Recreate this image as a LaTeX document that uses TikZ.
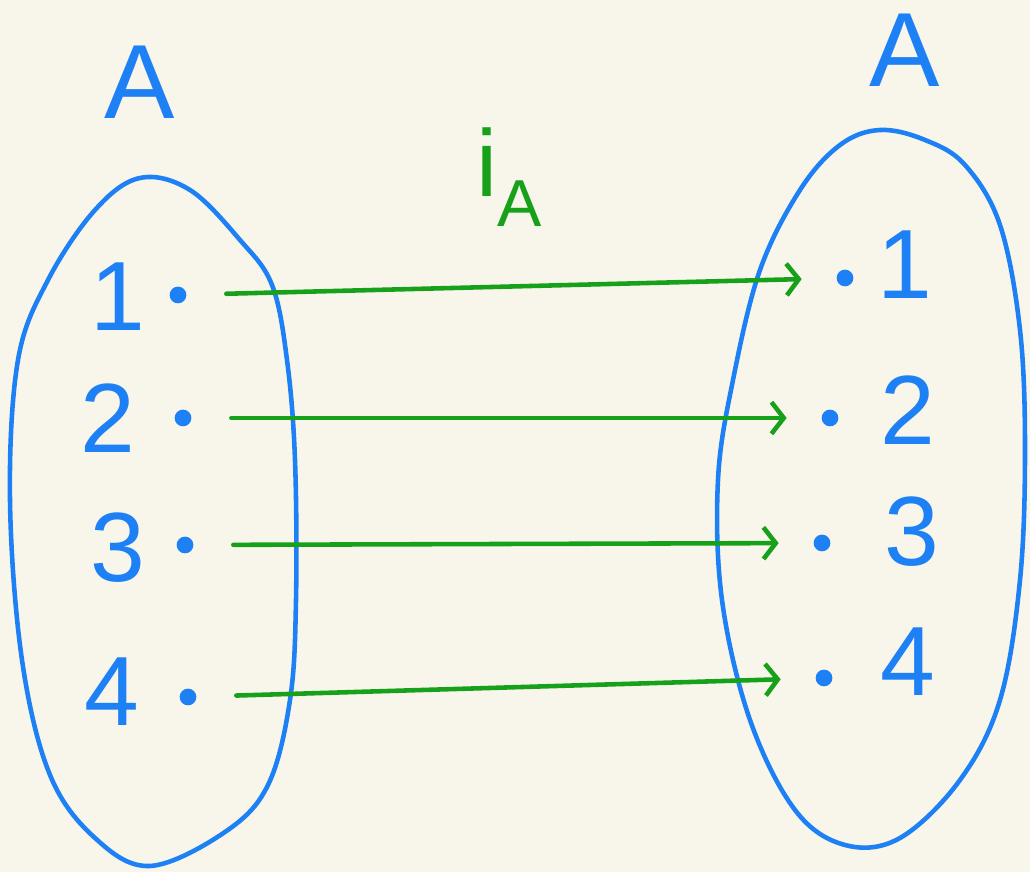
\documentclass[tikz,border=0pt]{standalone}
\usepackage{fontspec}
\setmainfont{Liberation Sans}
\usepackage{tikz}
\usetikzlibrary{arrows.meta}
\definecolor{paper}{HTML}{F8F6EA}
\definecolor{pen}{HTML}{1E80F5}
\definecolor{ink}{HTML}{17A01A}

\begin{document}
\begin{tikzpicture}[line cap=round, line join=round,
  blob/.style={draw=pen, line width=2.6pt},
  elem/.style={circle, draw=pen, fill=pen, line width=1pt, inner sep=3pt},
  digit/.style={text=pen, font=\fontsize{56}{56}\selectfont},
  setname/.style={text=pen, font=\fontsize{60}{60}\selectfont},
  maparrow/.style={draw=ink, line width=2.6pt, -{Straight Barb[length=7pt,width=18pt]},
    shorten <=0.8cm, shorten >=0.7cm}]
\fill[paper] (0,0) rectangle (20.6,17.44);
\useasboundingbox (0,0) rectangle (20.6,17.44);

% the two sets
\draw[blob] plot[smooth cycle, tension=0.6] coordinates {(2.8,13.88) (3.8,13.64) (4.8,12.64)
  (5.44,11.74) (5.74,10.24) (5.9,8.24) (5.92,5.44) (5.8,3.44) (5.36,1.74) (4.5,0.8)
  (3.0,0.12) (1.9,0.68) (1.0,1.94) (0.44,4.24) (0.2,7.44) (0.36,10.24) (0.96,11.84) (1.9,13.24)};
\draw[blob] plot[smooth cycle, tension=0.6] coordinates {(17.6,14.84) (18.5,14.64) (19.3,14.14)
  (20.0,12.94) (20.4,10.84) (20.5,8.44) (20.4,5.84) (20.0,3.44) (19.2,1.84) (18.0,0.68)
  (16.9,0.54) (15.9,1.24) (15.0,3.04) (14.44,5.44) (14.36,7.84) (14.66,9.84) (15.2,12.04)
  (16.0,13.64) (16.8,14.54)};

\node[setname] (dom) at (2.8,15.8) {A};
\node[setname] (cod) at (18.1,16.44) {A};
\node[text=ink, font=\fontsize{54}{54}\selectfont] (map) at (10.2,13.9) {i\textsubscript{A}};

% left elements
\node[digit] (l1) at (2.36,11.5) {1};
\node[digit] (l2) at (2.16,9.08) {2};
\node[digit] (l3) at (2.36,6.48) {3};
\node[digit] (l4) at (2.24,3.6) {4};
\node[elem] (a1) at (3.56,11.54) {};
\node[elem] (a2) at (3.66,9.08) {};
\node[elem] (a3) at (3.7,6.54) {};
\node[elem] (a4) at (3.76,3.5) {};

% right elements
\node[elem] (b1) at (16.9,11.88) {};
\node[elem] (b2) at (16.6,9.08) {};
\node[elem] (b3) at (16.44,6.58) {};
\node[elem] (b4) at (16.48,3.88) {};
\node[digit] (r1) at (18.1,12.14) {1};
\node[digit] (r2) at (18.16,9.24) {2};
\node[digit] (r3) at (18.24,6.8) {3};
\node[digit] (r4) at (18.16,4.2) {4};

% identity map
\draw[maparrow] (a1) -- (b1);
\draw[maparrow] (a2) -- (b2);
\draw[maparrow] (a3) -- (b3);
\draw[maparrow] (a4) -- (b4);
\end{tikzpicture}
\end{document}
